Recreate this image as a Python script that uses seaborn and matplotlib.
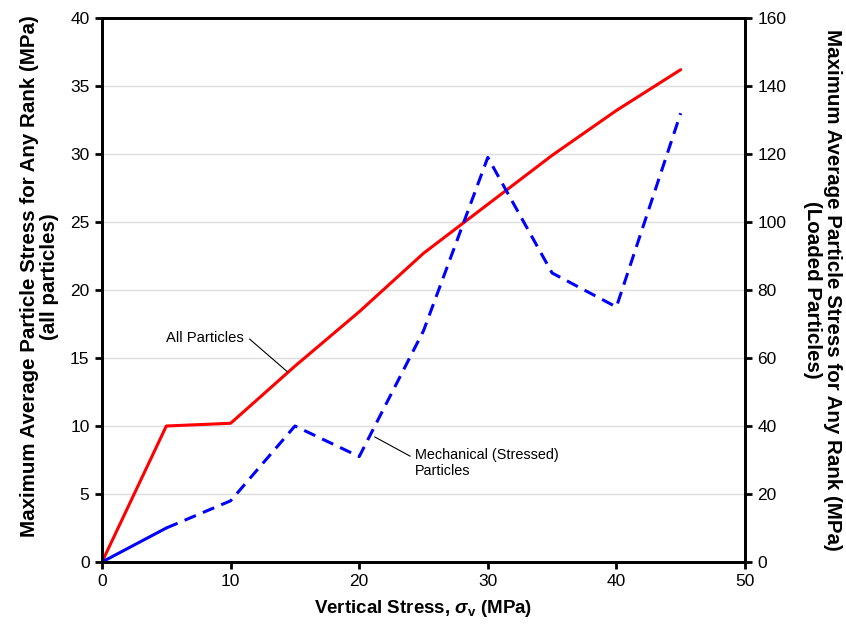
import seaborn as sns
import pandas as pd
import matplotlib.pyplot as plt

# data
stress = [0, 5, 10, 15, 20, 25, 30, 35, 40, 45]
all_particles = [0, 10.0, 10.2, 14.4, 18.4, 22.7, 26.3, 29.9, 33.2, 36.2]
loaded_particles = [0, 10, 18, 40, 31, 68, 119, 85, 75, 132]

df = pd.DataFrame({'stress': stress, 'all': all_particles, 'loaded': loaded_particles})

sns.set_style('white')
plt.rcParams['font.family'] = ['Liberation Sans', 'DejaVu Sans']
plt.rcParams['text.color'] = 'black'
plt.rcParams['axes.labelcolor'] = 'black'
plt.rcParams['mathtext.fontset'] = 'custom'
plt.rcParams['mathtext.it'] = 'Liberation Sans:italic:bold'
plt.rcParams['mathtext.rm'] = 'Liberation Sans:bold'
plt.rcParams['mathtext.bf'] = 'Liberation Sans:bold'

fig = plt.figure(figsize=(8.46, 6.25), dpi=100)
ax = fig.add_axes([0.1206, 0.1008, 0.76, 0.8704])
ax2 = ax.twinx()

sns.lineplot(data=df, x='stress', y='all', ax=ax, color='#ff0000', lw=2.2)
# first blue segment solid, rest dashed
sns.lineplot(data=df.iloc[:2], x='stress', y='loaded', ax=ax2, color='#0000ff', lw=2.2)
sns.lineplot(data=df.iloc[1:], x='stress', y='loaded', ax=ax2, color='#0000ff', lw=2.2,
             linestyle=(0, (4, 2.5)))

ax.set_xlim(0, 50)
ax.set_ylim(0, 40)
ax2.set_ylim(0, 160)
ax.set_xticks(range(0, 51, 10))
ax.set_yticks(range(0, 41, 5))
ax2.set_yticks(range(0, 161, 20))
ax.yaxis.grid(True, color='#dddddd', lw=1)
ax.set_axisbelow(True)

for a in (ax, ax2):
    for s in a.spines.values():
        s.set_color('black')
        s.set_linewidth(2)
    a.tick_params(direction='out', length=5, width=2, labelsize=12.5, colors='black', pad=4)
ax.tick_params(axis='y', left=True, right=False)
ax.tick_params(axis='x', bottom=True, top=False)
ax2.tick_params(axis='y', right=True, left=False)

ax.set_xlabel(r'Vertical Stress, $\sigma_\mathrm{v}$ (MPa)', fontsize=13.5, fontweight='bold', labelpad=6)
ax.set_ylabel('Maximum Average Particle Stress for Any Rank (MPa)\n(all particles)',
              fontsize=14.8, fontweight='bold', labelpad=8, linespacing=1.05)
ax.yaxis.set_label_coords(-0.067, 0.525)
ax2.set_ylabel('Maximum Average Particle Stress for Any Rank (MPa)\n(Loaded Particles)',
               fontsize=14.8, fontweight='bold', rotation=270, labelpad=40, linespacing=1.05)

ax.annotate('All Particles', xy=(14.4, 14.0), xytext=(5.0, 16.5), fontsize=10.6,
            va='center', ha='left',
            arrowprops=dict(arrowstyle='-', color='black', lw=0.8,
                            shrinkA=0, shrinkB=0, relpos=(1.07, 0.4)))
ax.annotate('Mechanical (Stressed)\nParticles', xy=(21.2, 9.2), xytext=(24.3, 7.3),
            fontsize=10.4, va='center', ha='left', linespacing=1.15,
            arrowprops=dict(arrowstyle='-', color='black', lw=0.8,
                            shrinkA=0, shrinkB=0, relpos=(-0.03, 0.72)))

fig.savefig('out.png', dpi=100)
